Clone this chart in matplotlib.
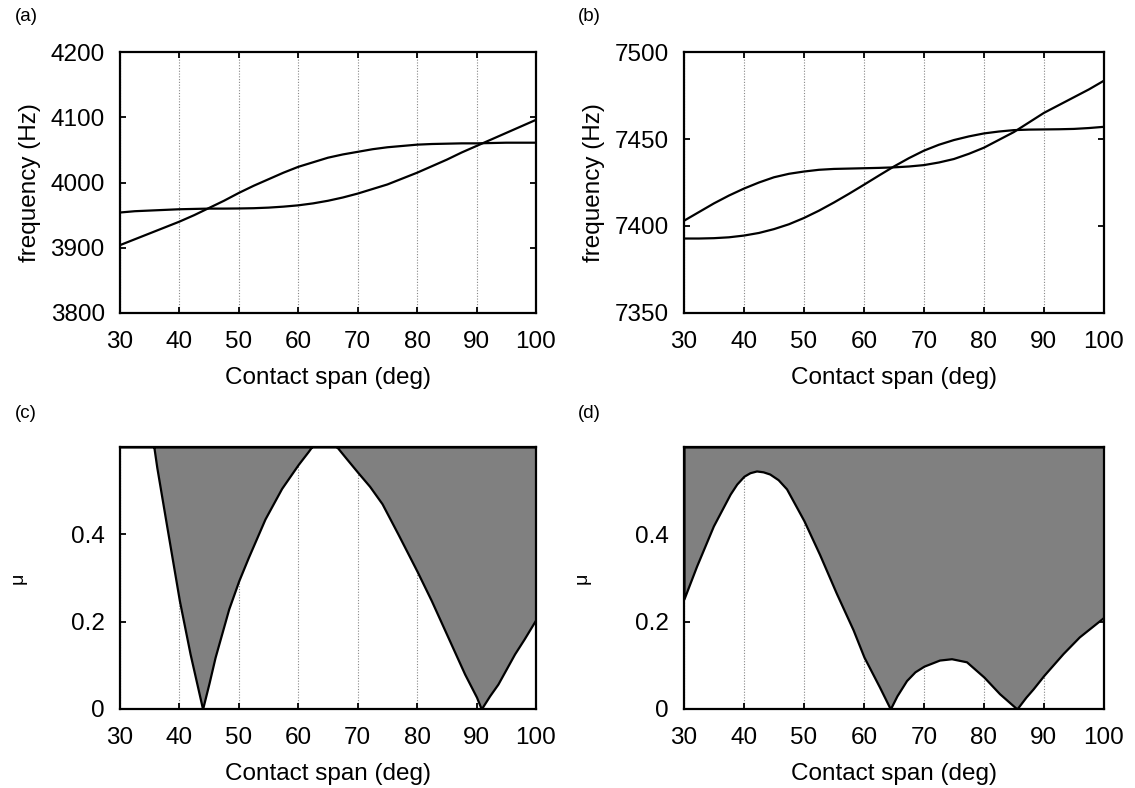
import matplotlib
matplotlib.use("Agg")
import matplotlib.pyplot as plt


# Data

span = [30, 32.5, 35, 37.5, 40, 42.5, 45, 47.5, 50, 52.5, 55, 57.5, 60, 62.5, 65,
        67.5, 70, 72.5, 75, 77.5, 80, 82.5, 85, 87.5, 90, 92.5, 95, 97.5, 100]

# (a) frequencies (Hz)
freq_a1 = [3904, 3913, 3922, 3931, 3940, 3950, 3961, 3972, 3984, 3995, 4005, 4015,
           4024, 4031, 4038, 4043, 4047, 4051, 4054, 4056, 4058, 4059, 4059.5, 4060,
           4060, 4060.5, 4061, 4061, 4061]
freq_a2 = [3954, 3956, 3957, 3958, 3959, 3959.5, 3960, 3960, 3960.2, 3960.6, 3961.5,
           3963, 3965, 3968, 3972, 3977, 3983, 3990, 3997, 4006, 4015, 4025, 4035,
           4046, 4056, 4066, 4076, 4086, 4096]

# (b) frequencies (Hz)
freq_b1 = [7403, 7408, 7413, 7417.5, 7421.5, 7425, 7428, 7430, 7431.3, 7432.3, 7432.8,
           7433, 7433.2, 7433.4, 7433.7, 7434.2, 7435, 7436.5, 7438.5, 7441.5, 7445,
           7449.5, 7454, 7459.5, 7465, 7469.5, 7474, 7478.5, 7483.5]
freq_b2 = [7392.8, 7392.8, 7393, 7393.5, 7394.5, 7396, 7398.2, 7401, 7404.6, 7408.8,
           7413.5, 7418.5, 7423.7, 7429, 7434.2, 7439, 7443.3, 7446.7, 7449.4, 7451.5,
           7453.2, 7454.3, 7455.1, 7455.4, 7455.5, 7455.6, 7455.8, 7456.3, 7457]

# (c) critical friction coefficient
span_c = [30, 33, 35, 35.7, 36.2, 37.9, 40, 41.8, 43.9, 45, 46.0, 48.3, 50, 51.6,
          54.4, 57.2, 60, 61.7, 62.5, 64, 65.5, 66.5, 68, 70, 72, 74.1, 76.8, 80,
          82.4, 85.2, 88, 90, 90.8, 92.2, 93.6, 96.4, 98, 100]
mu_c = [1.0, 0.78, 0.65, 0.6, 0.553, 0.416, 0.248, 0.126, 0.0, 0.06, 0.118, 0.229,
        0.294, 0.347, 0.435, 0.505, 0.56, 0.59, 0.605, 0.62, 0.612, 0.6, 0.575,
        0.542, 0.51, 0.47, 0.40, 0.315, 0.248, 0.164, 0.08, 0.027, 0.0, 0.03, 0.057,
        0.126, 0.16, 0.205]

# (d) critical friction coefficient
span_d = [30, 32.1, 34.9, 37.7, 38.8, 40, 41, 42.1, 43.2, 44.3, 45.7, 47.1, 50, 52.6,
          55.4, 58.2, 60, 62.6, 64.4, 65.5, 67.1, 68.5, 70, 72.6, 74.6, 77.1, 80,
          82.6, 85.5, 87, 88.2, 90, 93.2, 95.9, 100]
mu_d = [0.252, 0.327, 0.419, 0.492, 0.515, 0.533, 0.541, 0.545, 0.543, 0.538, 0.525,
        0.504, 0.431, 0.354, 0.265, 0.181, 0.119, 0.05, 0.0, 0.03, 0.065, 0.085,
        0.098, 0.112, 0.115, 0.108, 0.073, 0.035, 0.0, 0.027, 0.046, 0.077, 0.127,
        0.165, 0.21]

x_ticks = [30, 40, 50, 60, 70, 80, 90, 100]
mu_top = 0.6


# Figure

plt.rcParams["font.family"] = ["Liberation Sans", "DejaVu Sans"]
fig = plt.figure(figsize=(11.35, 7.88), dpi=100)

ax_a = fig.add_axes([0.1057, 0.6028, 0.3665, 0.3312])
ax_b = fig.add_axes([0.6026, 0.6028, 0.3700, 0.3312])
ax_c = fig.add_axes([0.1057, 0.1003, 0.3665, 0.3325])
ax_d = fig.add_axes([0.6026, 0.1003, 0.3700, 0.3325])


def style(ax):
    ax.set_xlim(30, 100)
    ax.set_xticks(x_ticks)
    ax.tick_params(direction="in", top=True, right=True, length=4, width=1.3,
                   labelsize=17.5)
    ax.tick_params(axis="x", pad=13)
    ax.tick_params(axis="y", pad=11)
    for s in ax.spines.values():
        s.set_linewidth(1.6)
    ax.set_axisbelow(True)
    ax.grid(axis="x", color="#888888", linestyle=(0, (1, 1.5)), linewidth=0.8)
    ax.set_xlabel("Contact span (deg)", fontsize=17.5, labelpad=10)


# (a)
ax_a.plot(span, freq_a1, color="black", linewidth=1.6)
ax_a.plot(span, freq_a2, color="black", linewidth=1.6)
ax_a.set_ylim(3800, 4200)
ax_a.set_yticks([3800, 3900, 4000, 4100, 4200])
ax_a.set_ylabel("frequency (Hz)", fontsize=17.5, labelpad=7)
style(ax_a)

# (b)
ax_b.plot(span, freq_b1, color="black", linewidth=1.6)
ax_b.plot(span, freq_b2, color="black", linewidth=1.6)
ax_b.set_ylim(7350, 7500)
ax_b.set_yticks([7350, 7400, 7450, 7500])
ax_b.set_ylabel("frequency (Hz)", fontsize=17.5, labelpad=7)
style(ax_b)

# (c), (d) unstable regions
for ax, xs, mus in [(ax_c, span_c, mu_c), (ax_d, span_d, mu_d)]:
    ax.fill_between(xs, mus, mu_top, facecolor="#808080", edgecolor="black",
                    linewidth=1.6, zorder=2)
    ax.set_ylim(0, mu_top)
    ax.set_yticks([0, 0.2, 0.4])
    ax.set_yticklabels(["0", "0.2", "0.4"])
    ax.set_ylabel("\u03bc", fontsize=14, labelpad=32)
    style(ax)

# panel labels
fig.text(0.013, 0.973, "(a)", fontsize=13.5)
fig.text(0.509, 0.973, "(b)", fontsize=13.5)
fig.text(0.013, 0.470, "(c)", fontsize=13.5)
fig.text(0.509, 0.470, "(d)", fontsize=13.5)

fig.savefig("out.png", dpi=100)
